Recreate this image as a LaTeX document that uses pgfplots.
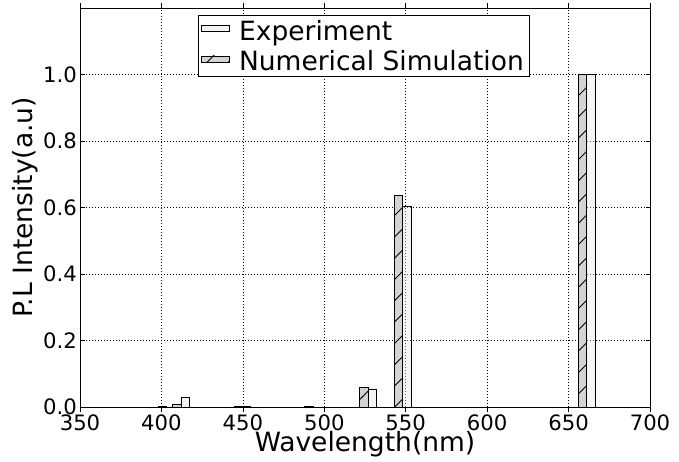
\documentclass[border=0pt]{standalone}
\usepackage{fontspec}
\setmainfont{DejaVu Sans}
\usepackage{pgfplots}
\pgfplotsset{compat=1.18}
\usetikzlibrary{patterns.meta}
\tikzdeclarepattern{
  name=sparsehatch,
  type=uncolored,
  bounding box={(-0.5pt,-0.5pt) and (21.8pt,21.8pt)},
  tile size={(21.3pt,21.3pt)},
  code={\draw[line width=0.9pt] (-0.5pt,-0.5pt) -- (21.8pt,21.8pt);}
}
\definecolor{simfill}{HTML}{D3D3D3}
\begin{document}
\begin{tikzpicture}
\begin{axis}[
  scale only axis, width=570pt, height=399pt,
  xmin=350, xmax=700, ymin=0, ymax=1.2,
  xtick={350,400,450,500,550,600,650,700},
  ytick={0,0.2,0.4,0.6,0.8,1.0},
  /pgf/number format/assume math mode=true,
  yticklabel style={/pgf/number format/fixed, /pgf/number format/fixed zerofill, /pgf/number format/precision=1},
  ticklabel style={font=\fontsize{21.2}{24}\selectfont},
  yticklabel style={inner sep=0pt, xshift=-3pt},
  xticklabel style={inner sep=0pt, yshift=-3.5pt},
  tick align=inside, major tick length=4.5pt,
  tick style={black, line width=0.6pt},
  axis line style={black, line width=0.8pt},
  grid=major,
  major grid style={black, line width=0.6pt, dash pattern=on 1pt off 2pt},
  xlabel={Wavelength(nm)},
  ylabel={P.L Intensity(a.u)},
  label style={font=\fontsize{26.5}{30}\selectfont, inner sep=0pt},
  xlabel style={at={(axis description cs:0.5,0)}, anchor=north, yshift=-24.5pt},
  ylabel style={at={(axis description cs:0,0.5)}, anchor=south, yshift=42pt},
  ybar, bar width=5.15,
  legend image code/.code={\draw[#1] (0pt,-1pt) rectangle (28pt,5.5pt);},
  legend cell align=left,
  legend style={at={(0.207,0.982)}, anchor=north west, draw=black, line width=0.6pt,
    fill=white, inner xsep=3pt, inner ysep=2.5pt, column sep=7pt, row sep=5pt,
    font=\fontsize{26.5}{30}\selectfont},
]
\addplot[bar shift=0pt, draw=black, line width=0.8pt, fill=black!10, fill opacity=0.4]
  coordinates {(414.6,0.029) (452.3,0.003) (529.6,0.053) (550.7,0.604) (663.7,1.0)};
\addlegendentry{Experiment}
\addplot[bar shift=0pt, draw=black, line width=0.8pt, fill=simfill,
  postaction={pattern=sparsehatch, pattern color=black}]
  coordinates {(400.7,0.003) (409.4,0.008) (447.1,0.003) (490.5,0.003) (524.4,0.059) (545.5,0.636) (658.5,1.0)};
\addlegendentry{Numerical Simulation}
\end{axis}
\path ([shift={(-80pt,-54pt)}]current axis.south west) rectangle ([shift={(29pt,8pt)}]current axis.north east);
\end{tikzpicture}
\end{document}
